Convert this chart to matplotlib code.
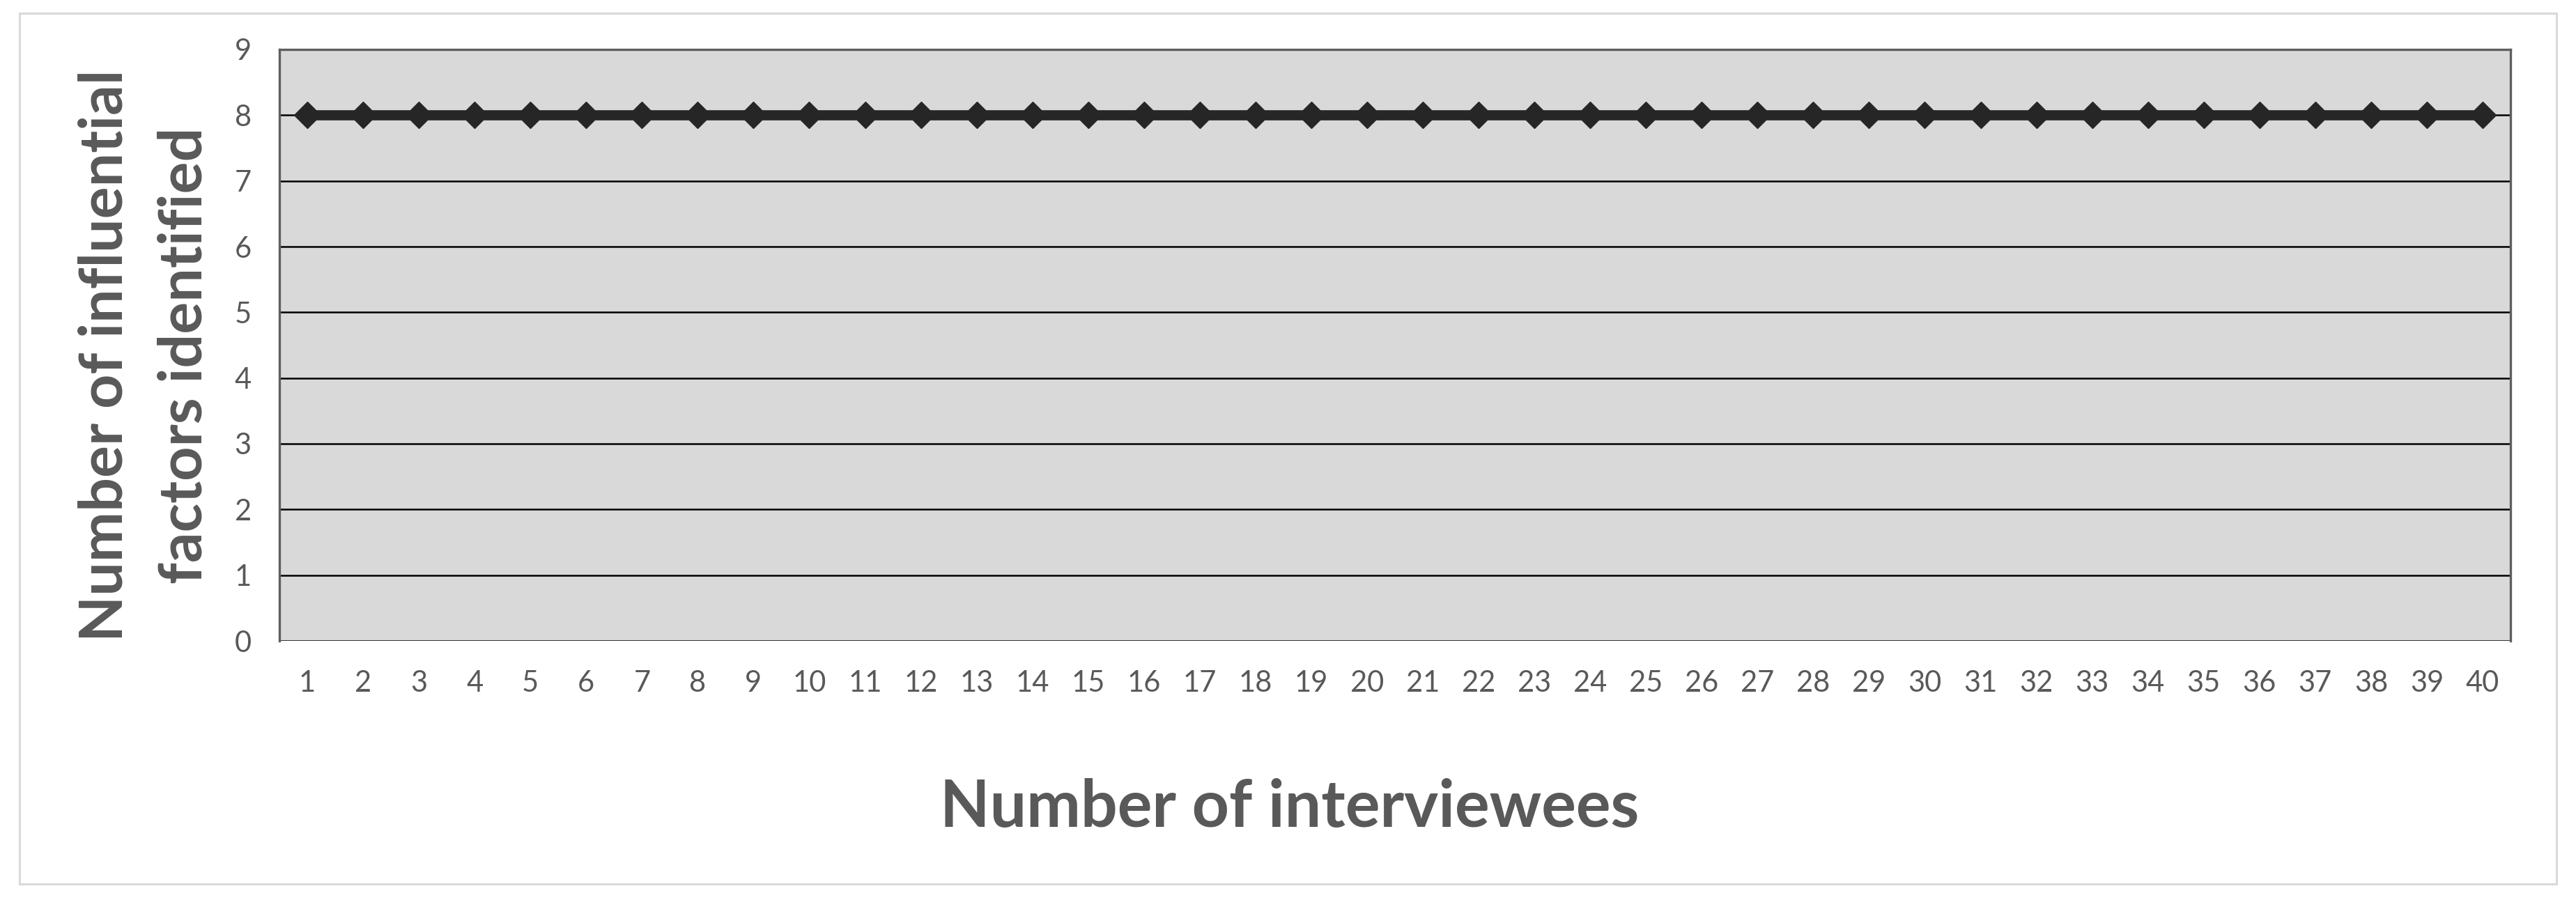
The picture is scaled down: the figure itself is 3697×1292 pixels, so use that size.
import matplotlib
matplotlib.use("Agg")
import matplotlib.pyplot as plt
from matplotlib.patches import Rectangle

interviewees = list(range(1, 41))
factors_identified = [8] * 40
y_ticks = [0, 1, 2, 3, 4, 5, 6, 7, 8, 9]

plt.rcParams['font.family'] = ['Lato', 'DejaVu Sans']

W, H = 3697, 1292
fig = plt.figure(figsize=(W / 100, H / 100), dpi=100)
fig.patch.set_facecolor('white')

# outer chart frame
fig.patches.append(Rectangle((28 / W, 23 / H), (3669 - 28) / W, (1269 - 19) / H,
                             transform=fig.transFigure, fill=False,
                             edgecolor='#d9d9d9', linewidth=2.2))

ax = fig.add_axes([401 / W, 372 / H, (3603 - 401) / W, (1221 - 372) / H])
ax.set_facecolor('#d9d9d9')

ax.set_xlim(0.5, len(interviewees) + 0.5)
ax.set_ylim(min(y_ticks), max(y_ticks))
ax.set_yticks(y_ticks)
ax.set_xticks(interviewees)
ax.set_xticklabels([str(v) for v in interviewees])

ax.yaxis.grid(True, color='black', linewidth=1.8, zorder=1)
ax.set_axisbelow(True)

ax.plot(interviewees, factors_identified, color='#262626', linewidth=10.5,
        marker='D', markersize=19, markerfacecolor='#262626',
        markeredgecolor='#262626', markeredgewidth=1, zorder=3,
        solid_capstyle='butt')

for side in ['left', 'top', 'right']:
    ax.spines[side].set_color('#5f5f5f')
    ax.spines[side].set_linewidth(2.4)
ax.spines['bottom'].set_visible(False)

ax.tick_params(axis='both', length=0, labelsize=30, labelcolor='#595959')
ax.tick_params(axis='y', pad=29)
ax.tick_params(axis='x', pad=30)

fig.text(208 / W, 1 - 510 / H, 'Number of influential\nfactors identified',
         rotation=90, ha='center', va='center', multialignment='center',
         fontsize=62, fontweight='bold', color='#595959', linespacing=1.55)

fig.text(1851 / W, 1 - 1160 / H, 'Number of interviewees',
         ha='center', va='center', fontsize=67, fontweight='bold',
         color='#595959')

fig.savefig('out.png', dpi=100, facecolor='white')
